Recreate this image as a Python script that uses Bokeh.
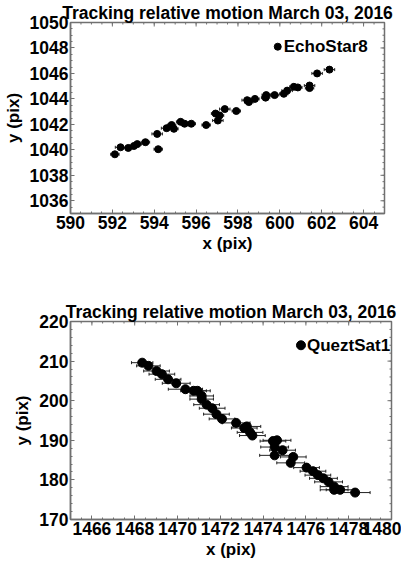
import math
from bokeh.plotting import figure
from bokeh.layouts import column
from bokeh.models import Range1d, FixedTicker, Whisker, ColumnDataSource, TeeHead
from bokeh.core.properties import value
from bokeh.embed import file_html
from bokeh.resources import INLINE

title_text = "Tracking relative motion March 03, 2016"

# EchoStar8 track
echo_x = [592.12, 592.39, 592.76, 593.03, 593.19, 593.58, 594.14, 594.19, 594.59, 594.83,
          594.94, 595.26, 595.45, 595.77, 596.48, 597.04, 596.93, 597.12, 597.37, 597.92,
          598.44, 598.52, 598.81, 599.32, 599.35, 599.75, 600.19, 600.35, 600.67, 600.86,
          601.42, 601.42, 601.78, 602.37]
echo_y = [1039.65, 1040.2, 1040.15, 1040.3, 1040.45, 1040.6, 1041.25, 1040.05, 1041.7, 1041.95,
          1041.65, 1042.2, 1042.05, 1042.05, 1041.95, 1042.3, 1042.85, 1042.7, 1043.2, 1043.05,
          1043.9, 1043.75, 1044.0, 1044.1, 1044.3, 1044.3, 1044.4, 1044.65, 1044.95, 1044.9,
          1045.05, 1044.85, 1046.0, 1046.3]
echo_xerr = [0.2, 0.25, 0.2, 0.2, 0.2, 0.2, 0.25, 0.2, 0.25, 0.2,
             0.2, 0.2, 0.2, 0.2, 0.2, 0.25, 0.2, 0.2, 0.25, 0.2,
             0.25, 0.2, 0.2, 0.2, 0.2, 0.2, 0.2, 0.25, 0.2, 0.2,
             0.25, 0.2, 0.25, 0.25]
echo_name = "EchoStar8"
echo_name_x = [599.9]
echo_name_y = [1048.1]
echo_xticks = [590, 592, 594, 596, 598, 600, 602, 604]
echo_yticks = [1036, 1038, 1040, 1042, 1044, 1046, 1048, 1050]

# QueztSat1 track
quezt_x = [1468.35, 1468.64, 1469.02, 1469.27, 1469.56, 1469.94, 1470.37, 1470.75, 1470.93, 1471.13,
           1471.13, 1471.36, 1471.62, 1471.82, 1472.08, 1472.74, 1473.12, 1473.24, 1473.39, 1473.5,
           1474.46, 1474.65, 1474.54, 1474.91, 1474.54, 1475.41, 1475.29, 1476.03, 1476.33, 1476.56,
           1476.82, 1477.06, 1477.32, 1477.32, 1477.6, 1478.3]
quezt_y = [209.6, 208.8, 207.5, 206.7, 205.4, 204.4, 202.9, 202.5, 202.5, 201.2,
           200.4, 199.0, 198.1, 196.6, 195.4, 194.4, 193.1, 193.5, 192.0, 191.2,
           189.8, 190.0, 188.3, 187.5, 186.2, 185.8, 184.3, 183.1, 182.2, 181.2,
           180.4, 179.5, 178.3, 177.5, 177.5, 176.8]
quezt_xerr = [0.5, 0.55, 0.6, 0.6, 0.6, 0.65, 0.8, 0.6, 0.6, 0.55,
              0.55, 0.6, 0.6, 0.6, 0.6, 0.65, 0.6, 0.65, 0.6, 0.6,
              0.6, 0.65, 0.65, 0.6, 0.7, 0.6, 0.65, 0.6, 0.6, 0.6,
              0.65, 0.65, 0.65, 0.65, 0.65, 0.7]
quezt_name = "QueztSat1"
quezt_name_x = [1475.77]
quezt_name_y = [214.0]
quezt_xticks = [1466, 1468, 1470, 1472, 1474, 1476, 1478, 1480]
quezt_yticks = [170, 180, 190, 200, 210, 220]

FONT = "Liberation Sans"
FRAME = "#707070"


def minor_list(lo, hi, step):
    n = int(round((hi - lo) / step))
    return [lo + i * step for i in range(n + 1)]


def make_fig(xs, ys, errs, name, nx, ny, xr, yr, xt, yt, xminor, yminor,
             fw, fh, b_left, b_right, b_top, b_bottom, msize):
    p = figure(frame_width=fw, frame_height=fh, output_backend="svg", toolbar_location=None,
               x_range=Range1d(*xr), y_range=Range1d(*yr),
               min_border_left=b_left, min_border_right=b_right,
               min_border_top=b_top, min_border_bottom=b_bottom,
               x_axis_label="x (pix)", y_axis_label="y (pix)")
    p.title.text = title_text
    p.title.text_font = FONT
    p.title.text_font_size = "17.5px"
    p.title.text_font_style = "bold"
    p.title.text_color = "black"
    p.title.align = "center"
    p.title.standoff = 0
    p.grid.visible = False
    p.outline_line_color = FRAME
    p.outline_line_width = 1.5

    xm = minor_list(xr[0], xr[1], xminor)
    ym = minor_list(yr[0], yr[1], yminor)
    p.xaxis.ticker = FixedTicker(ticks=xt, minor_ticks=xm)
    p.yaxis.ticker = FixedTicker(ticks=yt, minor_ticks=ym)

    for ax in p.axis:
        ax.axis_line_color = FRAME
        ax.axis_line_width = 1.5
        ax.major_tick_line_color = FRAME
        ax.minor_tick_line_color = FRAME
        ax.major_tick_in = 4
        ax.major_tick_out = 0
        ax.minor_tick_in = 2
        ax.minor_tick_out = 0
        ax.major_label_text_font = FONT
        ax.major_label_text_font_size = "17.5px"
        ax.major_label_text_font_style = "bold"
        ax.major_label_text_color = "black"
        ax.axis_label_text_font = FONT
        ax.axis_label_text_font_size = "17px"
        ax.axis_label_text_font_style = "bold"
        ax.axis_label_text_color = "black"
        ax.major_label_standoff = 2
        ax.axis_label_standoff = 2
    p.yaxis.axis_label_standoff = 4

    # mirrored inward ticks on the top and right frame edges
    p.scatter(xt, [yr[1]] * len(xt), marker="dash", angle=math.pi / 2, size=8,
              line_color=FRAME, line_width=1)
    p.scatter(xm, [yr[1]] * len(xm), marker="dash", angle=math.pi / 2, size=4,
              line_color=FRAME, line_width=1)
    p.scatter([xr[1]] * len(yt), yt, marker="dash", size=8, line_color=FRAME, line_width=1)
    p.scatter([xr[1]] * len(ym), ym, marker="dash", size=4, line_color=FRAME, line_width=1)

    src = ColumnDataSource(dict(x=xs, y=ys, lo=[a - e for a, e in zip(xs, errs)],
                                hi=[a + e for a, e in zip(xs, errs)]))
    w = Whisker(source=src, base="y", lower="lo", upper="hi", dimension="width",
                line_color="#222222", line_width=1,
                lower_head=TeeHead(size=3, line_color="#222222", line_width=1),
                upper_head=TeeHead(size=3, line_color="#222222", line_width=1))
    p.add_layout(w)
    p.scatter("x", "y", source=src, size=msize, color="black")

    nsrc = ColumnDataSource(dict(x=nx, y=ny, t=[name]))
    p.scatter("x", "y", source=nsrc, size=msize, color="black")
    p.text("x", "y", text="t", source=nsrc, x_offset=6, text_baseline="middle",
           text_font=value(FONT), text_font_size="17px", text_font_style="bold",
           text_color="black")
    return p


p1 = make_fig(echo_x, echo_y, echo_xerr, echo_name, echo_name_x, echo_name_y,
              (590, 605), (1035, 1050), echo_xticks, echo_yticks, 0.5, 0.5,
              fw=314, fh=191, b_left=67, b_right=15, b_top=0, b_bottom=36, msize=7)
p2 = make_fig(quezt_x, quezt_y, quezt_xerr, quezt_name, quezt_name_x, quezt_name_y,
              (1465, 1480), (170, 220), quezt_xticks, quezt_yticks, 0.5, 2,
              fw=321, fh=198, b_left=55, b_right=20, b_top=66, b_bottom=36, msize=9)

layout = column(p1, p2, spacing=0)
open("out.html", "w").write(file_html(layout, INLINE))
